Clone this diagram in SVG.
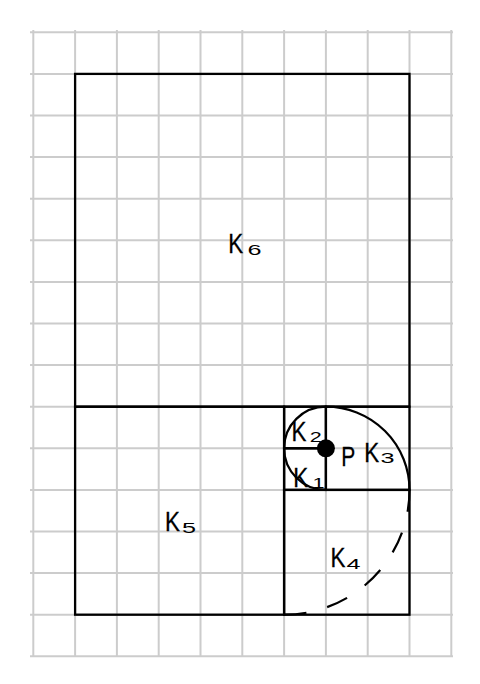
<svg xmlns="http://www.w3.org/2000/svg" width="480" height="684" viewBox="0 0 480 684">
<style>
.grid line{stroke:#cccccc;stroke-width:2}
.sq{fill:none;stroke:#000;stroke-width:2.3}
.arc{fill:none;stroke:#000;stroke-width:2.2}
.k{font-family:"Liberation Sans",Arial,sans-serif;font-size:28px;fill:#000;stroke:#000;stroke-width:0.3}
.s{font-family:"Liberation Sans",Arial,sans-serif;font-size:15px;fill:#000}
</style>
<rect width="480" height="684" fill="#fff"/>
<g class="grid">
<line x1="33.3" y1="30" x2="33.3" y2="657"/>
<line x1="75.1" y1="30" x2="75.1" y2="657"/>
<line x1="116.9" y1="30" x2="116.9" y2="657"/>
<line x1="158.7" y1="30" x2="158.7" y2="657"/>
<line x1="200.5" y1="30" x2="200.5" y2="657"/>
<line x1="242.3" y1="30" x2="242.3" y2="657"/>
<line x1="284.1" y1="30" x2="284.1" y2="657"/>
<line x1="325.9" y1="30" x2="325.9" y2="657"/>
<line x1="367.7" y1="30" x2="367.7" y2="657"/>
<line x1="409.5" y1="30" x2="409.5" y2="657"/>
<line x1="451.3" y1="30" x2="451.3" y2="657"/>
<line x1="30" y1="32.3" x2="453" y2="32.3"/>
<line x1="30" y1="73.9" x2="453" y2="73.9"/>
<line x1="30" y1="115.5" x2="453" y2="115.5"/>
<line x1="30" y1="157.1" x2="453" y2="157.1"/>
<line x1="30" y1="198.7" x2="453" y2="198.7"/>
<line x1="30" y1="240.3" x2="453" y2="240.3"/>
<line x1="30" y1="281.9" x2="453" y2="281.9"/>
<line x1="30" y1="323.5" x2="453" y2="323.5"/>
<line x1="30" y1="365.1" x2="453" y2="365.1"/>
<line x1="30" y1="406.7" x2="453" y2="406.7"/>
<line x1="30" y1="448.3" x2="453" y2="448.3"/>
<line x1="30" y1="489.9" x2="453" y2="489.9"/>
<line x1="30" y1="531.5" x2="453" y2="531.5"/>
<line x1="30" y1="573.1" x2="453" y2="573.1"/>
<line x1="30" y1="614.7" x2="453" y2="614.7"/>
<line x1="30" y1="656.3" x2="453" y2="656.3"/>
</g>
<g id="K6">
<rect class="sq" x="75.1" y="73.9" width="334.4" height="332.8"/>
<text class="k" transform="translate(228.2,253.3) scale(0.8,1)">K</text>
<text class="s" transform="translate(247.5,254.5) scale(1.68,1)">6</text>
</g>
<g id="K5">
<rect class="sq" x="75.1" y="406.7" width="209" height="208"/>
<text class="k" transform="translate(164.9,531) scale(0.8,1)">K</text>
<text class="s" transform="translate(182,532.5) scale(1.68,1)">5</text>
</g>
<g id="K4">
<rect class="sq" x="284.1" y="489.9" width="125.4" height="124.8"/>
<text class="k" transform="translate(330.5,567.3) scale(0.8,1)">K</text>
<text class="s" transform="translate(346.5,569) scale(1.68,1)">4</text>
</g>
<g id="K3">
<rect class="sq" x="325.9" y="406.7" width="83.6" height="83.2"/>
<text class="k" transform="translate(364.2,461.7) scale(0.8,1)">K</text>
<text class="s" transform="translate(380.5,463.3) scale(1.68,1)">3</text>
</g>
<g id="K2">
<rect class="sq" x="284.1" y="406.7" width="41.8" height="41.6"/>
<text class="k" transform="translate(291.5,441) scale(0.8,1)">K</text>
<text class="s" transform="translate(309.8,441.7) scale(1.44,1)">2</text>
</g>
<g id="K1">
<rect class="sq" x="284.1" y="448.3" width="41.8" height="41.6"/>
<text class="k" transform="translate(293.2,487.3) scale(0.8,1)">K</text>
<text class="s" transform="translate(312.5,488.3) scale(1.44,1)">1</text>
</g>
<g id="spiral">
<path class="arc" d="M325.9,489.9 A41.8,41.6 0 0 1 284.1,448.3 A41.8,41.6 0 0 1 325.9,406.7 A83.6,83.2 0 0 1 409.5,489.9"/>
<path class="arc" d="M409.5,489.9 A125.4,124.8 0 0 1 284.1,614.7" stroke-dasharray="22 21.5"/>
</g>
<g id="P">
<circle cx="325.9" cy="448.3" r="9" fill="#000"/>
<text class="k" font-size="26" transform="translate(341.2,466) scale(0.75,1)">P</text>
</g>
</svg>
